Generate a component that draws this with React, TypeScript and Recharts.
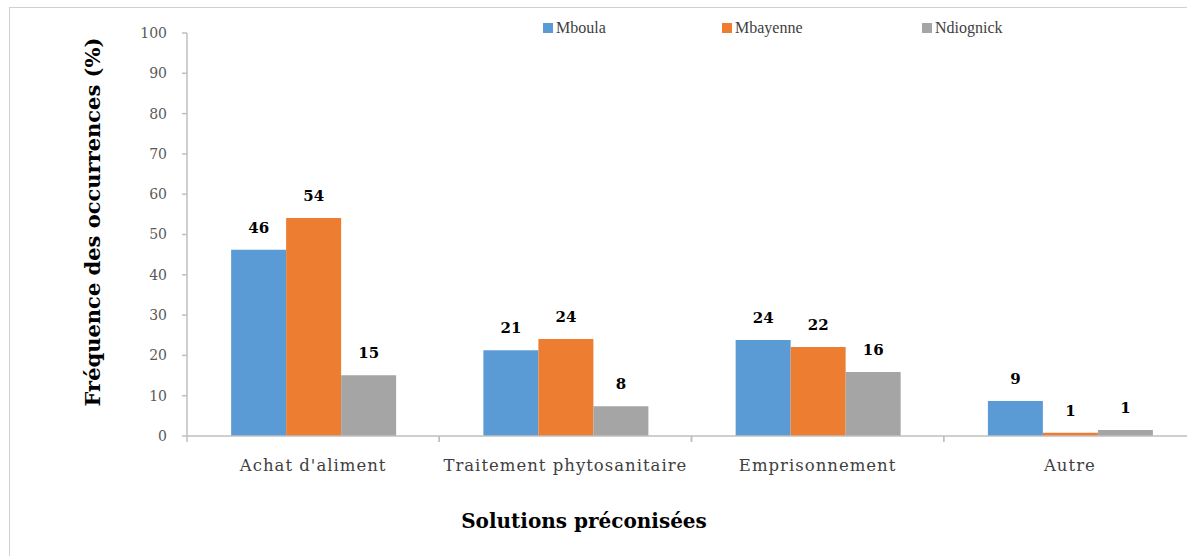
import React from "react";
import { BarChart, Bar, XAxis, YAxis, Legend, LabelList, Label } from "recharts";

const categories = ["Achat d'aliment", "Traitement phytosanitaire", "Emprisonnement", "Autre"];
const seriesNames = ["Mboula", "Mbayenne", "Ndiognick"];
const mboula = [46.2, 21.3, 23.8, 8.7];
const mbayenne = [54.1, 24.1, 22.1, 0.8];
const ndiognick = [15.1, 7.4, 15.9, 1.5];
const mboulaLabels = ["46", "21", "24", "9"];
const mbayenneLabels = ["54", "24", "22", "1"];
const ndiognickLabels = ["15", "8", "16", "1"];
const yTicks = [0, 10, 20, 30, 40, 50, 60, 70, 80, 90, 100];

const colors = ["#5B9BD5", "#ED7D31", "#A5A5A5"];
const SERIF = "'DejaVu Serif', serif";
const LSERIF = "'Liberation Serif', serif";
const AXIS = "#bfbfbf";

const data = categories.map((c, i) => ({
  name: c,
  Mboula: mboula[i],
  Mbayenne: mbayenne[i],
  Ndiognick: ndiognick[i],
  lMboula: mboulaLabels[i],
  lMbayenne: mbayenneLabels[i],
  lNdiognick: ndiognickLabels[i],
}));

const legendLefts = [543, 722, 922];

const renderLegend = () => (
  <div style={{ position: "relative", width: 1187, height: 20 }}>
    {seriesNames.map((n, i) => (
      <div
        key={n}
        style={{
          position: "absolute",
          left: legendLefts[i],
          top: 0,
          display: "flex",
          alignItems: "center",
        }}
      >
        <span style={{ display: "inline-block", width: 10, height: 10, background: colors[i], marginRight: 3 }} />
        <span style={{ fontFamily: LSERIF, fontSize: 16, color: "#404040", lineHeight: "20px" }}>{n}</span>
      </div>
    ))}
  </div>
);

const TICK_SIZE = 6;
const TICK_MARGIN = 17;

const CatTick = (p: any) => {
  const off = (p.payload && p.payload.offset) || 0;
  const y0 = p.y - TICK_SIZE - TICK_MARGIN;
  return (
    <g>
      <line x1={p.x - off} x2={p.x - off} y1={y0} y2={y0 + 6} stroke={AXIS} strokeWidth={1.5} />
      <line x1={p.x + off} x2={p.x + off} y1={y0} y2={y0 + 6} stroke={AXIS} strokeWidth={1.5} />
      <text
        x={p.x}
        y={p.y}
        dy="0.71em"
        textAnchor="middle"
        style={{ fontFamily: SERIF, fontSize: 16.5, fill: "#404040", letterSpacing: 1 }}
      >
        {p.payload.value}
      </text>
    </g>
  );
};

const xTitle = (props: any) => {
  const vb = props.viewBox || {};
  return (
    <text
      x={584}
      y={(vb.y || 0) + (vb.height || 0) - 8}
      textAnchor="middle"
      style={{ fontFamily: SERIF, fontSize: 20, fontWeight: "bold", fill: "#000" }}
    >
      Solutions préconisées
    </text>
  );
};

const yTitle = () => (
  <text
    x={92}
    y={222}
    transform="rotate(-90 92 222)"
    textAnchor="middle"
    dominantBaseline="central"
    style={{ fontFamily: SERIF, fontSize: 21, fontWeight: "bold", fill: "#000" }}
  >
    Fréquence des occurrences (%)
  </text>
);

export default function App() {
  return (
    <div style={{ position: "absolute", left: 0, top: 0, width: 1187, height: 556, overflow: "hidden", background: "#fff" }}>
      <div
        style={{
          position: "absolute",
          left: 9,
          top: 7,
          width: 1220,
          height: 600,
          border: "1px solid #d0d0d0",
          boxSizing: "border-box",
        }}
      />
      <div style={{ position: "absolute", left: 0, top: 0 }}>
        <BarChart
          width={1200}
          height={556}
          data={data}
          margin={{ top: 13, right: 4, bottom: 20, left: 0 }}
          barCategoryGap="17.5%"
          barGap={0}
        >
          <XAxis
            dataKey="name"
            height={100}
            axisLine={{ stroke: AXIS, strokeWidth: 1.5 }}
            tickLine={false}
            tickSize={TICK_SIZE}
            tickMargin={TICK_MARGIN}
            tick={<CatTick />}
            interval={0}
          >
            <Label content={xTitle} />
          </XAxis>
          <YAxis
            width={187}
            domain={[0, 100]}
            ticks={yTicks}
            interval={0}
            axisLine={{ stroke: AXIS, strokeWidth: 1.5 }}
            tickLine={{ stroke: AXIS, strokeWidth: 1.5 }}
            tickSize={5}
            tickMargin={15}
            tick={{ fontFamily: SERIF, fontSize: 14, fill: "#595959" }}
          >
            <Label content={yTitle} />
          </YAxis>
          <Legend verticalAlign="top" content={renderLegend} wrapperStyle={{ top: 18, left: 0, width: 1187 }} />
          {seriesNames.map((n, i) => (
            <Bar key={n} dataKey={n} fill={colors[i]} isAnimationActive={false}>
              <LabelList
                dataKey={"l" + n}
                position="top"
                offset={17}
                style={{ fontFamily: SERIF, fontSize: 15, fontWeight: "bold", fill: "#000" }}
              />
            </Bar>
          ))}
        </BarChart>
      </div>
    </div>
  );
}
